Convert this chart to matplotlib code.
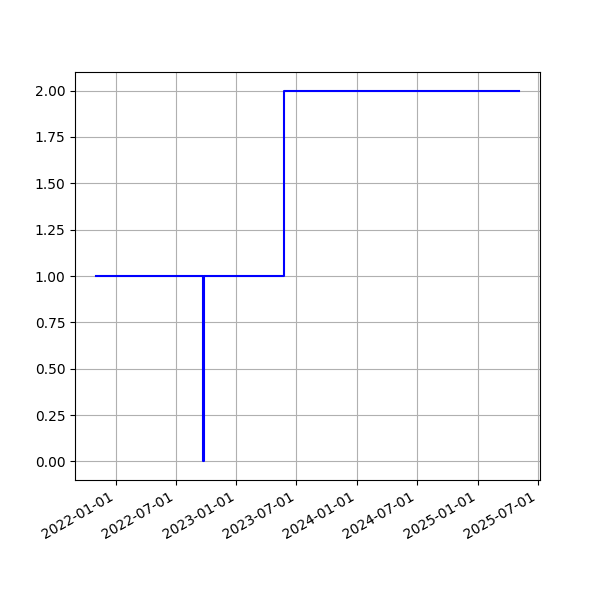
import numpy as np
import matplotlib
matplotlib.use('Agg')
import matplotlib.pyplot as plt
import matplotlib.dates as mdates

# step data (value holds from each date until the next one)
dates = np.array(['2021-11-02', '2022-09-23', '2022-09-24', '2023-05-24', '2025-05-05'],
                 dtype='datetime64[D]')
values = [1, 0, 1, 2, 2]

fig, ax = plt.subplots(figsize=(6, 6), dpi=100)
ax.step(dates, values, where='post', color='b')
ax.grid(True)

ax.xaxis.set_major_locator(mdates.MonthLocator(bymonth=[1, 7]))
ax.xaxis.set_major_formatter(mdates.DateFormatter('%Y-%m-%d'))
fig.autofmt_xdate()

fig.savefig('out.png')
